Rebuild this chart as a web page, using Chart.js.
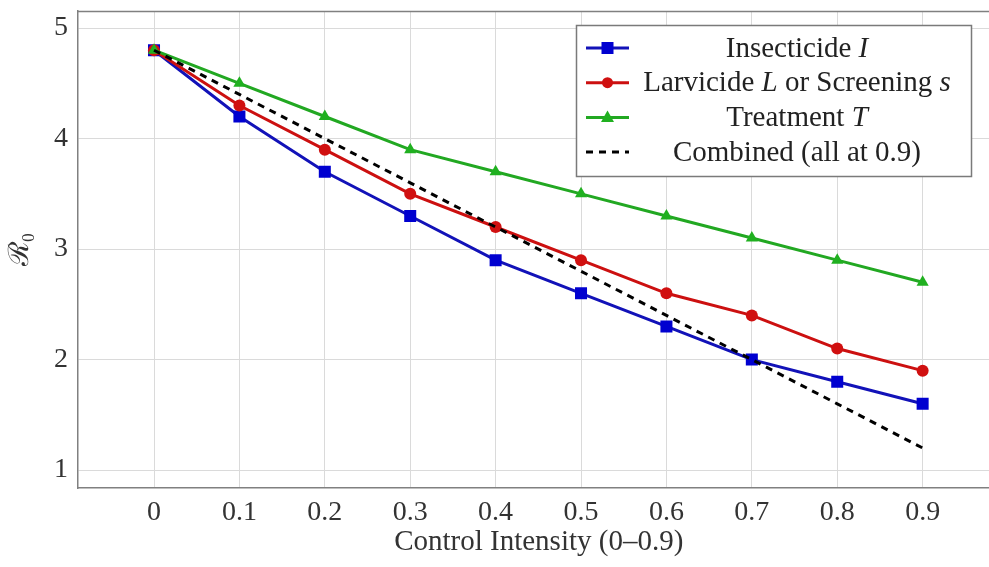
<!DOCTYPE html>
<html><head><meta charset="utf-8">
<script src="https://cdn.jsdelivr.net/npm/chart.js@4.4.1/dist/chart.umd.min.js"></script>
<style>html,body{margin:0;padding:0;overflow:hidden;background:#fff;width:989px;height:567px}canvas{display:block}</style>
</head><body>
<canvas id="c" width="1008" height="567"></canvas>
<script>
// ---- data ----
const xValues = [0, 0.1, 0.2, 0.3, 0.4, 0.5, 0.6, 0.7, 0.8, 0.9];
const xTickLabels = ['0', '0.1', '0.2', '0.3', '0.4', '0.5', '0.6', '0.7', '0.8', '0.9'];
const yTickValues = [1, 2, 3, 4, 5];
const yTickLabels = ['1', '2', '3', '4', '5'];
const insecticide = [4.8, 4.2, 3.7, 3.3, 2.9, 2.6, 2.3, 2.0, 1.8, 1.6];
const larvicide   = [4.8, 4.3, 3.9, 3.5, 3.2, 2.9, 2.6, 2.4, 2.1, 1.9];
const treatment   = [4.8, 4.5, 4.2, 3.9, 3.7, 3.5, 3.3, 3.1, 2.9, 2.7];
const combined    = [4.8, 4.4, 4.0, 3.6, 3.2, 2.8, 2.4, 2.0, 1.6, 1.2];
const seriesNames = ['Insecticide I', 'Larvicide L or Screening s', 'Treatment T', 'Combined (all at 0.9)'];
const xTitle = 'Control Intensity (0\u20130.9)';
const yTitle = '\u211B\u2080';

const FONT = "'Liberation Serif', 'DejaVu Serif', serif";
const FS = 28;
const FS_T = 29;
const BLUE = '#1212b8', RED = '#cc1010', GREEN = '#22a822', BLACK = '#000000';

const pts = arr => xValues.map((x, i) => ({x: x, y: arr[i]}));

const datasets = [
  {label: seriesNames[0], data: pts(insecticide), borderColor: BLUE, backgroundColor: '#0000d0', borderWidth: 3,
   pointStyle: 'rect', pointRadius: 8.5, pointBorderWidth: 0, order: 3},
  {label: seriesNames[1], data: pts(larvicide), borderColor: RED, backgroundColor: '#d01010', borderWidth: 3,
   pointStyle: 'circle', pointRadius: 6, pointBorderWidth: 0, order: 2},
  {label: seriesNames[2], data: pts(treatment), borderColor: GREEN, backgroundColor: '#20b020', borderWidth: 3,
   pointStyle: 'triangle', pointRadius: 7, pointBorderWidth: 0, order: 1},
  {label: seriesNames[3], data: pts(combined), borderColor: BLACK, borderWidth: 3, borderDash: [7, 6],
   pointRadius: 0, order: 0}
];
datasets.forEach(d => { d.tension = 0; d.fill = false; });

const legendParts = [
  [['Insecticide ', false], ['I', true]],
  [['Larvicide ', false], ['L', true], [' or Screening ', false], ['s', true]],
  [['Treatment ', false], ['T', true]],
  [['Combined (all at 0.9)', false]]
];

const framePlugin = {
  id: 'frame',
  afterDatasetsDraw(chart) {
    const ctx = chart.ctx, a = chart.chartArea;
    ctx.save();
    ctx.strokeStyle = '#808080';
    ctx.lineWidth = 1.5;
    ctx.beginPath();
    ctx.moveTo(a.left, a.top + 0.5);
    ctx.lineTo(a.right, a.top + 0.5);
    ctx.stroke();
    // legend box
    const bx = 576.5, by = 25.5, bw = 395, bh = 151;
    ctx.fillStyle = '#ffffff';
    ctx.fillRect(bx, by, bw, bh);
    ctx.strokeStyle = '#7a7a7a';
    ctx.lineWidth = 1.5;
    ctx.strokeRect(bx, by, bw, bh);
    const textCx = 797;
    for (let i = 0; i < 4; i++) {
      const ds = chart.data.datasets[i];
      const y = 48 + i * 34.7;
      ctx.save();
      ctx.strokeStyle = ds.borderColor;
      ctx.lineWidth = 3;
      if (ds.borderDash) ctx.setLineDash(ds.borderDash);
      ctx.beginPath();
      ctx.moveTo(586, y);
      ctx.lineTo(629, y);
      ctx.stroke();
      ctx.restore();
      ctx.fillStyle = ds.backgroundColor || '#000';
      const mx = 607.5;
      if (ds.pointStyle === 'rect') {
        ctx.fillRect(mx - 6, y - 6, 12, 12);
      } else if (ds.pointStyle === 'circle') {
        ctx.beginPath(); ctx.arc(mx, y, 5.5, 0, Math.PI * 2); ctx.fill();
      } else if (ds.pointStyle === 'triangle') {
        ctx.beginPath(); ctx.moveTo(mx, y - 7); ctx.lineTo(mx + 6.5, y + 4.5); ctx.lineTo(mx - 6.5, y + 4.5); ctx.closePath(); ctx.fill();
      }
      // text
      const parts = legendParts[i];
      let total = 0;
      const widths = parts.map(p => {
        ctx.font = (p[1] ? 'italic ' : '') + FS_T + 'px ' + FONT;
        const w = ctx.measureText(p[0]).width; total += w; return w;
      });
      let x = textCx - total / 2;
      ctx.fillStyle = '#222';
      ctx.textBaseline = 'middle';
      ctx.textAlign = 'left';
      parts.forEach((p, k) => {
        ctx.font = (p[1] ? 'italic ' : '') + FS_T + 'px ' + FONT;
        ctx.fillText(p[0], x, y + 1);
        x += widths[k];
      });
    }
    ctx.restore();
  }
};

new Chart(document.getElementById('c'), {
  type: 'line',
  data: {datasets: datasets},
  plugins: [framePlugin],
  options: {
    responsive: false,
    animation: false,
    layout: {padding: {left: 0, top: 11, right: 0, bottom: 0}},
    plugins: {legend: {display: false}, tooltip: {enabled: false}},
    scales: {
      x: {
        type: 'linear', min: -0.089, max: 0.99,
        afterBuildTicks: s => { s.ticks = xValues.map(v => ({value: v})); },
        afterFit: s => { s.height = 79; s.paddingLeft = 0; s.paddingRight = 0; },
        ticks: {color: '#333', font: {family: FONT, size: FS}, padding: 8, maxRotation: 0,
                callback: (v, i) => xTickLabels[i]},
        grid: {color: '#dadada', lineWidth: 1, drawTicks: false},
        border: {color: '#808080', width: 1.5},
        title: {display: true, text: xTitle, color: '#333', font: {family: FONT, size: FS_T}, padding: {top: 0, bottom: 7}}
      },
      y: {
        type: 'linear', min: 0.838, max: 5.155,
        afterBuildTicks: s => { s.ticks = yTickValues.map(v => ({value: v})); },
        afterFit: s => { s.width = 78; s.paddingTop = 0; s.paddingBottom = 0; },
        ticks: {color: '#333', font: {family: FONT, size: FS}, padding: 10,
                callback: (v, i) => yTickLabels[i]},
        grid: {color: '#dadada', lineWidth: 1, drawTicks: false},
        border: {color: '#808080', width: 1.5},
        title: {display: true, text: yTitle, color: '#333', font: {family: FONT, size: FS}, padding: {top: 4, bottom: 0}}
      }
    }
  }
});
</script>
</body></html>
